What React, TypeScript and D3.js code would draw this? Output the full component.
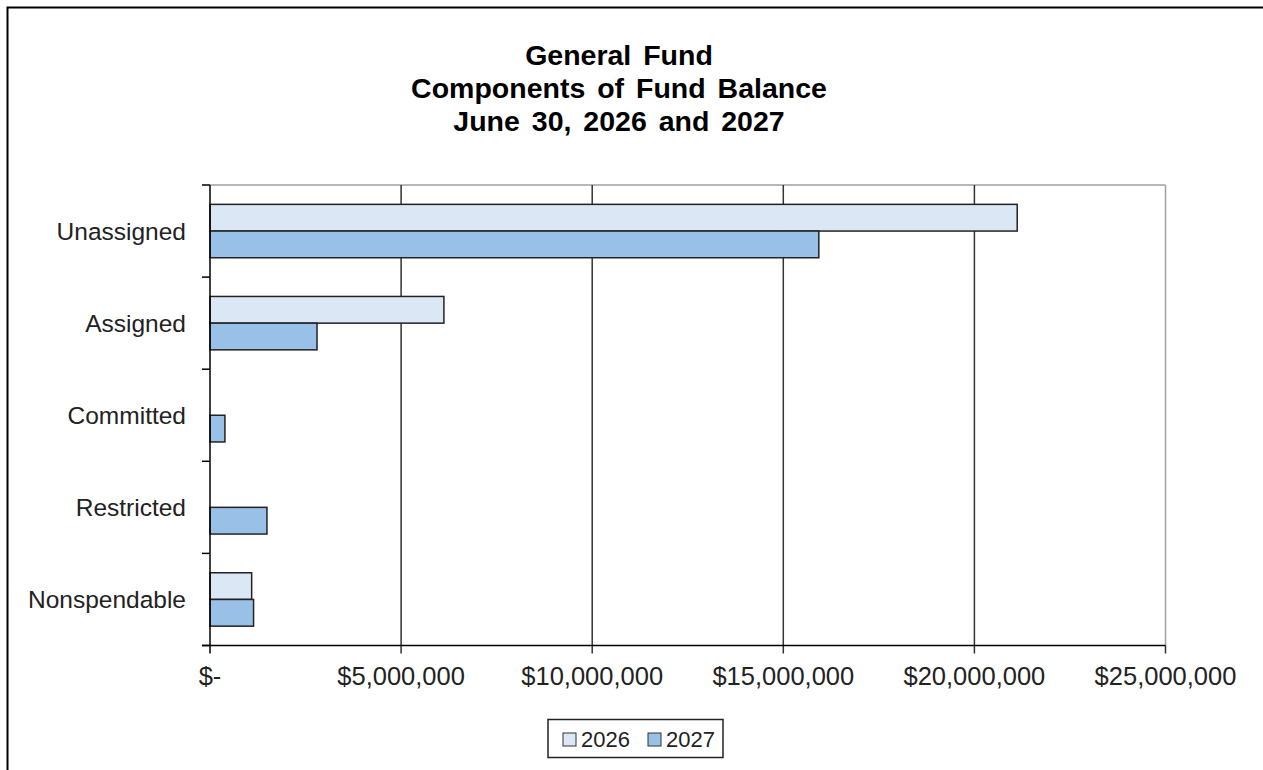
import React from "react";
import * as d3 from "d3";

const categories = ["Unassigned", "Assigned", "Committed", "Restricted", "Nonspendable"];
const seriesNames = ["2026", "2027"];
const values2026 = [21120000, 6120000, 0, 0, 1090000];
const values2027 = [15930000, 2800000, 390000, 1490000, 1140000];
const xTicks = [0, 5000000, 10000000, 15000000, 20000000, 25000000];
const titleLines = ["General Fund", "Components of Fund Balance", "June 30, 2026 and 2027"];
const colors = ["#DCE7F5", "#99C0E7"];

const W = 1263;
const H = 770;
const plot = { left: 210, right: 1165.5, top: 185, bottom: 645.5 };
const FONT = "Arial, 'Liberation Sans', Helvetica, sans-serif";

export default function App() {
  const x = d3.scaleLinear().domain([0, 25000000]).range([plot.left, plot.right]);
  const y = d3.scaleBand<string>().domain(categories).range([plot.top, plot.bottom]).paddingInner(0).paddingOuter(0);
  const inner = d3.scaleBand<string>().domain(seriesNames).range([0, y.bandwidth()]).paddingInner(0).paddingOuter(0.725);
  const series = [values2026, values2027];
  const fmt = (v: number) => (v === 0 ? "$-" : "$" + d3.format(",")(v));

  const yBounds = categories.map((c) => y(c) as number).concat([plot.bottom]);

  return (
    <svg width={W} height={H} style={{ position: "absolute", left: 0, top: 0, background: "#fff" }} fontFamily={FONT}>
      <rect x={0} y={0} width={W} height={H} fill="#fff" />
      <rect x={7.5} y={7.5} width={W + 20} height={H + 20} fill="none" stroke="#000" strokeWidth={2} />

      {titleLines.map((t, i) => (
        <text key={t} x={619} y={65 + i * 33} textAnchor="middle" fontWeight="bold" fontSize={28.5} fill="#000" wordSpacing={4}>
          {t}
        </text>
      ))}

      <line x1={plot.left} x2={plot.right} y1={plot.top} y2={plot.top} stroke="#A0A0A0" strokeWidth={1.5} />
      <line x1={plot.right} x2={plot.right} y1={plot.top} y2={plot.bottom} stroke="#A0A0A0" strokeWidth={1.5} />

      {xTicks.slice(1, -1).map((t) => (
        <line key={t} x1={x(t)} x2={x(t)} y1={plot.top} y2={plot.bottom + 8} stroke="#333" strokeWidth={1.5} />
      ))}
      <line x1={x(25000000)} x2={x(25000000)} y1={plot.bottom} y2={plot.bottom + 8} stroke="#333" strokeWidth={1.5} />
      <line x1={x(0)} x2={x(0)} y1={plot.bottom} y2={plot.bottom + 8} stroke="#000" strokeWidth={1.5} />

      {categories.map((c, ci) =>
        seriesNames.map((s, si) => {
          const v = series[si][ci];
          if (!v) return null;
          const by = (y(c) as number) + (inner(s) as number);
          return (
            <rect
              key={c + s}
              x={x(0)}
              y={by}
              width={x(v) - x(0)}
              height={inner.bandwidth()}
              fill={colors[si]}
              stroke="#222"
              strokeWidth={1.5}
            />
          );
        })
      )}

      <line x1={plot.left} x2={plot.left} y1={plot.top} y2={plot.bottom} stroke="#000" strokeWidth={1.5} />
      <line x1={plot.left - 8} x2={plot.right} y1={plot.bottom} y2={plot.bottom} stroke="#000" strokeWidth={1.5} />
      {yBounds.map((b, i) => (
        <line key={i} x1={plot.left - 8} x2={plot.left} y1={b} y2={b} stroke="#000" strokeWidth={1.5} />
      ))}

      {categories.map((c) => (
        <text key={c} x={186} y={(y(c) as number) + y.bandwidth() / 2 + 8.5} textAnchor="end" fontSize={24.5} fill="#222">
          {c}
        </text>
      ))}

      {xTicks.map((t) => (
        <text key={t} x={x(t)} y={685} textAnchor="middle" fontSize={25.5} fill="#222">
          {fmt(t)}
        </text>
      ))}

      <rect x={548} y={719.5} width={175} height={38} fill="#fff" stroke="#222" strokeWidth={1.5} />
      {seriesNames.map((s, i) => (
        <g key={s} transform={`translate(${563 + i * 85},0)`}>
          <rect x={0} y={733} width={13} height={13} fill={colors[i]} stroke="#333" strokeWidth={1} />
          <text x={18} y={747} fontSize={22} fill="#222">
            {s}
          </text>
        </g>
      ))}
    </svg>
  );
}
